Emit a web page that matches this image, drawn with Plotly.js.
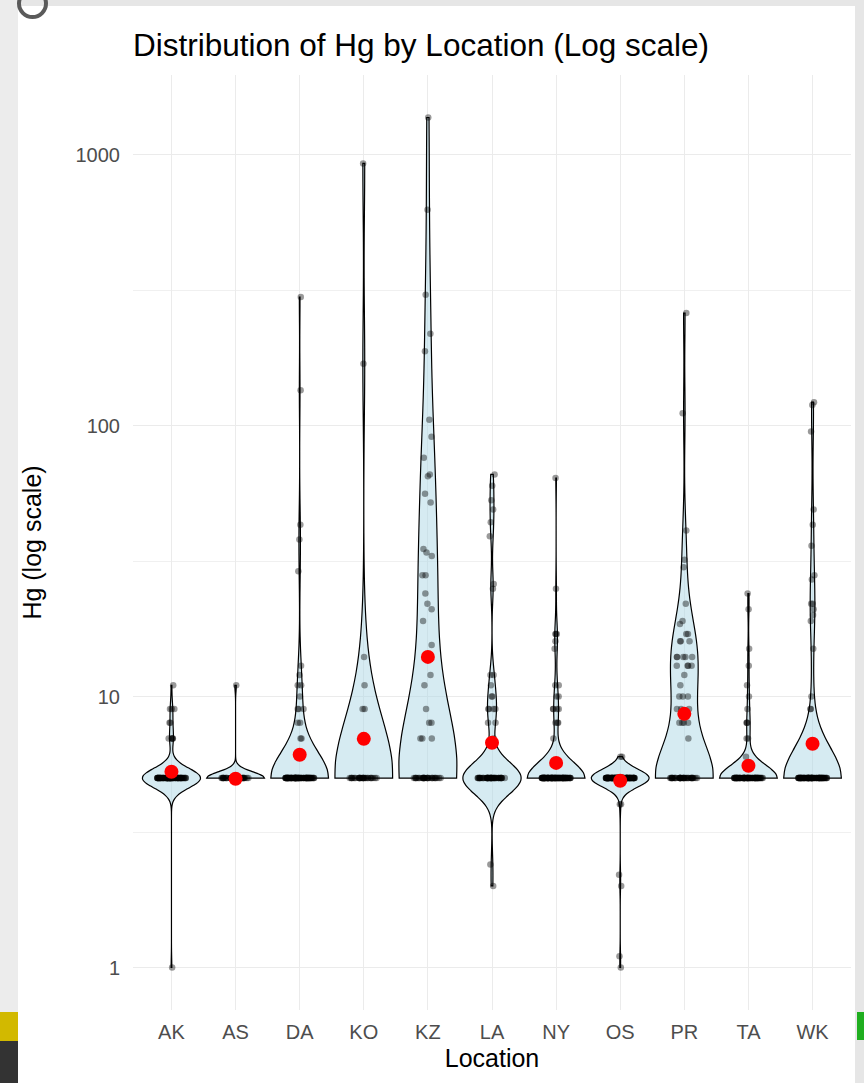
<!DOCTYPE html>
<html>
<head>
<meta charset="utf-8">
<script src="https://cdn.plot.ly/plotly-3.0.1.min.js"></script>
<style>
html,body{margin:0;padding:0;width:864px;height:1083px;overflow:hidden;background:#e6e6e6;}
#leftshade{position:absolute;left:0;top:0;width:18px;height:1083px;background:#ececec;}
#white{position:absolute;left:18px;top:6px;width:837px;height:1077px;background:#ffffff;}
#arc{position:absolute;left:17px;top:-12px;width:23px;height:23px;border:4px solid #5a5a5a;border-radius:50%;}
#yellow{position:absolute;left:0;top:1012px;width:18px;height:29px;background:#d2b900;}
#darkl{position:absolute;left:0;top:1041px;width:18px;height:42px;background:#333333;}
#green{position:absolute;left:857px;top:1012px;width:7px;height:28px;background:#1fae1f;}
#chart{position:absolute;left:0;top:0;width:864px;height:1083px;}
</style>
</head>
<body>
<div id="leftshade"></div>
<div id="white"></div>
<div id="arc"></div>
<div id="yellow"></div>
<div id="darkl"></div>
<div id="green"></div>
<div id="chart"></div>
<script>
// ---- data (Hg values) ----
const locations = ["AK","AS","DA","KO","KZ","LA","NY","OS","PR","TA","WK"];

const hgAK = [11,9,9,9,8,8,7,7,7,7,7,1,
  5,5,5,5,5,5,5,5,5,5,5,5,5,5,5,5,5,5,5,5,
  5,5,5,5,5,5,5,5,5,5,5,5,5,5,5,5,5,5,5,5,
  5,5,5,5,5,5,5,5,5,5,5,5,5,5,5,5,5,5,5,5,
  5,5,5,5,5,5,5,5,5,5,5,5,5,5,5,5,5,5,5,5,
  5,5,5,5,5];
const hgAS = [11,
  5,5,5,5,5,5,5,5,5,5,5,5,5,5,5,5,5,5,5,5,
  5,5,5,5,5,5,5,5,5,5,5,5,5,5,5,5,5,5,5,5];
const hgDA = [298,135,43,38,29,13,12,11,11,10,9,9,9,8,8,7,7,
  5,5,5,5,5,5,5,5,5,5,5,5,5,5,5,5,5,5,5,5,
  5,5,5,5,5,5,5,5,5,5,5,5,5,5,5,5,5,5,5,5,
  5,5,5,5,5,5,5,5,5,5,5,5,5,5,5,5,5,5,5,5,
  5,5,5,5,5,5,5,5,5,5,5,5,5,5,5,5,5,5,5,5,
  5,5,5,5,5,5,5,5];
const hgKO = [927,169,14,11,9,9,7,
  5,5,5,5,5,5,5,5,5,5,5,5,5,5,5,5,5,5,5,5,
  5,5,5,5,5,5,5,5,5];
const hgKZ = [1370,625,304,218,188,105,91,76,66,65,56,52,35,34,33,28,28,24,22,21,19,15.5,14,12,11,9,8,8,7,7,7,
  5,5,5,5,5,5,5,5,5,5,5,5,5,5,5,5,5,5,5,5,
  5,5,5,5,5,5,5,5,5];
const hgLA = [66,60,53,49,44,39,26,25,12,12,11,10,10,9,9,9,9,8,8,7,2.4,2,
  5,5,5,5,5,5,5,5,5,5,5,5,5,5,5,5,5,5,5,5,
  5,5,5,5,5,5,5,5,5,5,5,5,5,5,5,5,5,5,5,5,
  5,5,5,5,5,5,5,5,5];
const hgNY = [64,25,17,17,17,16,15,11,11,10,10,9,9,9,9,8,8,8,7,
  5,5,5,5,5,5,5,5,5,5,5,5,5,5,5,5,5,5,5,5,
  5,5,5,5,5,5,5,5,5,5,5,5,5,5,5,5,5,5,5,5,
  5,5,5,5,5,5,5,5,5,5,5,5,5,5,5,5,5,5,5,5,
  5,5,5,5,5,5,5,5,5,5,5,5,5,5,5,5,5,5,5,5,
  5,5,5,5,5,5,5,5,5,5,5,5,5,5,5,5,5,5,5,5];
const hgOS = [6,6,4,4,2.2,2,1.1,1,
  5,5,5,5,5,5,5,5,5,5,5,5,5,5,5,5,5,5,5,5,
  5,5,5,5,5,5,5,5,5,5,5,5,5,5,5,5,5,5,5,5,
  5,5,5,5,5,5,5,5,5,5,5,5,5,5,5,5,5,5,5,5,
  5,5,5,5,5,5,5,5,5,5,5,5,5,5,5,5,5,5,5,5,
  5,5,5,5,5,5,5,5,5,5,5,5,5,5,5,5,5,5,5,5,
  5,5,5,5,5,5,5,5,5,5,5,5,5,5,5,5,5,5,5,5];
const hgPR = [260,111,41,32,30,22,19,18.5,17,17,16,16,16,14,14,14,14,14,13,13,13,13,12,11,10,10,10,9,9,9,8,8,8,8,7,
  5,5,5,5,5,5,5,5,5,5,5,5,5,5,5,5,5,5,5,5,
  5,5,5,5,5,5,5,5,5,5,5,5,5,5,5,5,5,5];
const hgTA = [24,21,15,13,11,10,9,8,8,8,7,7,6,
  5,5,5,5,5,5,5,5,5,5,5,5,5,5,5,5,5,5,5,5,
  5,5,5,5,5,5,5,5,5,5,5,5,5,5,5,5,5,5,5,5,
  5,5,5,5,5,5,5,5,5,5,5,5,5,5,5,5,5,5,5,5,
  5,5,5,5,5,5,5,5,5,5,5,5,5,5,5,5,5,5,5];
const hgWK = [122,119,95,49,43,36,28,27,22,22,21,20,19,15,10,9,9,
  5,5,5,5,5,5,5,5,5,5,5,5,5,5,5,5,5,5,5,5,
  5,5,5,5,5,5,5,5,5,5,5,5,5,5,5,5,5,5,5,5,
  5,5,5,5,5,5,5,5,5,5,5,5,5,5,5,5,5,5,5,5,
  5,5,5,5,5,5,5,5,5,5,5,5,5,5,5,5,5,5,5,5,
  5,5,5];

// mean of Hg on the log scale (red dots)
const meanHg = [5.28,4.97,6.1,6.98,14.0,6.75,5.69,4.89,8.63,5.55,6.69];

// y-axis tick labels
const yTickValues = [1,10,100,1000];

const seriesByLocation = [hgAK,hgAS,hgDA,hgKO,hgKZ,hgLA,hgNY,hgOS,hgPR,hgTA,hgWK];

// R's bw.nrd0 bandwidth (as ggplot's geom_violin uses), on the log10 scale
function nrd0(x){
  const n = x.length;
  const s = x.slice().sort((a,b)=>a-b);
  const m = s.reduce((a,b)=>a+b,0)/n;
  const sd = Math.sqrt(s.reduce((a,b)=>a+(b-m)*(b-m),0)/(n-1));
  const q = p => { const h=(n-1)*p, lo=Math.floor(h); return lo+1<n ? s[lo]+(h-lo)*(s[lo+1]-s[lo]) : s[lo]; };
  let lo = Math.min(sd, (q(0.75)-q(0.25))/1.34);
  if(!lo){ lo = sd || Math.abs(s[0]) || 1; }
  return 0.9*lo*Math.pow(n,-0.2);
}

const traces = [];
let allLogs = [];
locations.forEach((loc,i)=>{
  const logs = seriesByLocation[i].map(Math.log10);
  allLogs = allLogs.concat(logs);
  traces.push({
    type:'violin',
    name: loc,
    x: logs.map(()=>loc),
    y: logs,
    width: 0.9,
    spanmode: 'hard',
    bandwidth: nrd0(logs),
    scalemode: 'width',
    points: 'all',
    pointpos: 0,
    jitter: 0.5,
    fillcolor: 'rgba(173,216,230,0.5)',
    line: {color:'#000000', width:1.2},
    marker: {size:6.5, color:'rgba(0,0,0,0.4)', line:{width:0}},
    box: {visible:false},
    meanline: {visible:false},
    hoverinfo: 'skip'
  });
});
traces.push({
  type:'scatter', mode:'markers',
  x: locations,
  y: meanHg.map(Math.log10),
  marker: {color:'#ff0000', size:14},
  hoverinfo:'skip'
});

const yMin = Math.min(...allLogs), yMax = Math.max(...allLogs);
const pad = 0.05*(yMax-yMin);
const tickLogs = yTickValues.map(Math.log10);

const layout = {
  width: 864, height: 1083,
  paper_bgcolor: 'rgba(0,0,0,0)',
  plot_bgcolor: 'rgba(0,0,0,0)',
  margin: {l:133, r:13, t:75, b:73},
  showlegend: false,
  violinmode: 'overlay',
  font: {family:'"Liberation Sans", Arial, sans-serif', color:'#000000'},
  title: {
    text: 'Distribution of Hg by Location (Log scale)',
    font: {size:31.5, color:'#000000'},
    x: 0, xref:'paper', xanchor:'left',
    y: 1-45/1083, yref:'container', yanchor:'middle'
  },
  xaxis: {
    type:'category', categoryorder:'array', categoryarray: locations,
    range: [-0.6, 10.6],
    showgrid: true, gridcolor:'#ebebeb', gridwidth:1,
    zeroline:false, showline:false, ticks:'',
    tickfont: {size:20, color:'#4d4d4d'},
    ticklabelstandoff: 8,
    title: {text:'Location', font:{size:25, color:'#000000'}, standoff: 7}
  },
  yaxis: {
    range: [yMin-pad, yMax+pad],
    tickmode:'array', tickvals: tickLogs, ticktext: yTickValues.map(String),
    showgrid: true, gridcolor:'#ebebeb', gridwidth:1,
    zeroline:false, showline:false, ticks:'',
    tickfont: {size:20, color:'#4d4d4d'},
    ticklabelstandoff: 12,
    minor: {tickmode:'array', tickvals: tickLogs.slice(0,-1).map(v=>v+0.5).concat([tickLogs[tickLogs.length-1]+0.5]), showgrid:true, gridcolor:'#f0f0f0', gridwidth:1, ticks:''},
    title: {text:'Hg (log scale)', font:{size:25, color:'#000000'}, standoff: 26}
  }
};

Plotly.newPlot('chart', traces, layout, {staticPlot:true, displayModeBar:false});
</script>
</body>
</html>
